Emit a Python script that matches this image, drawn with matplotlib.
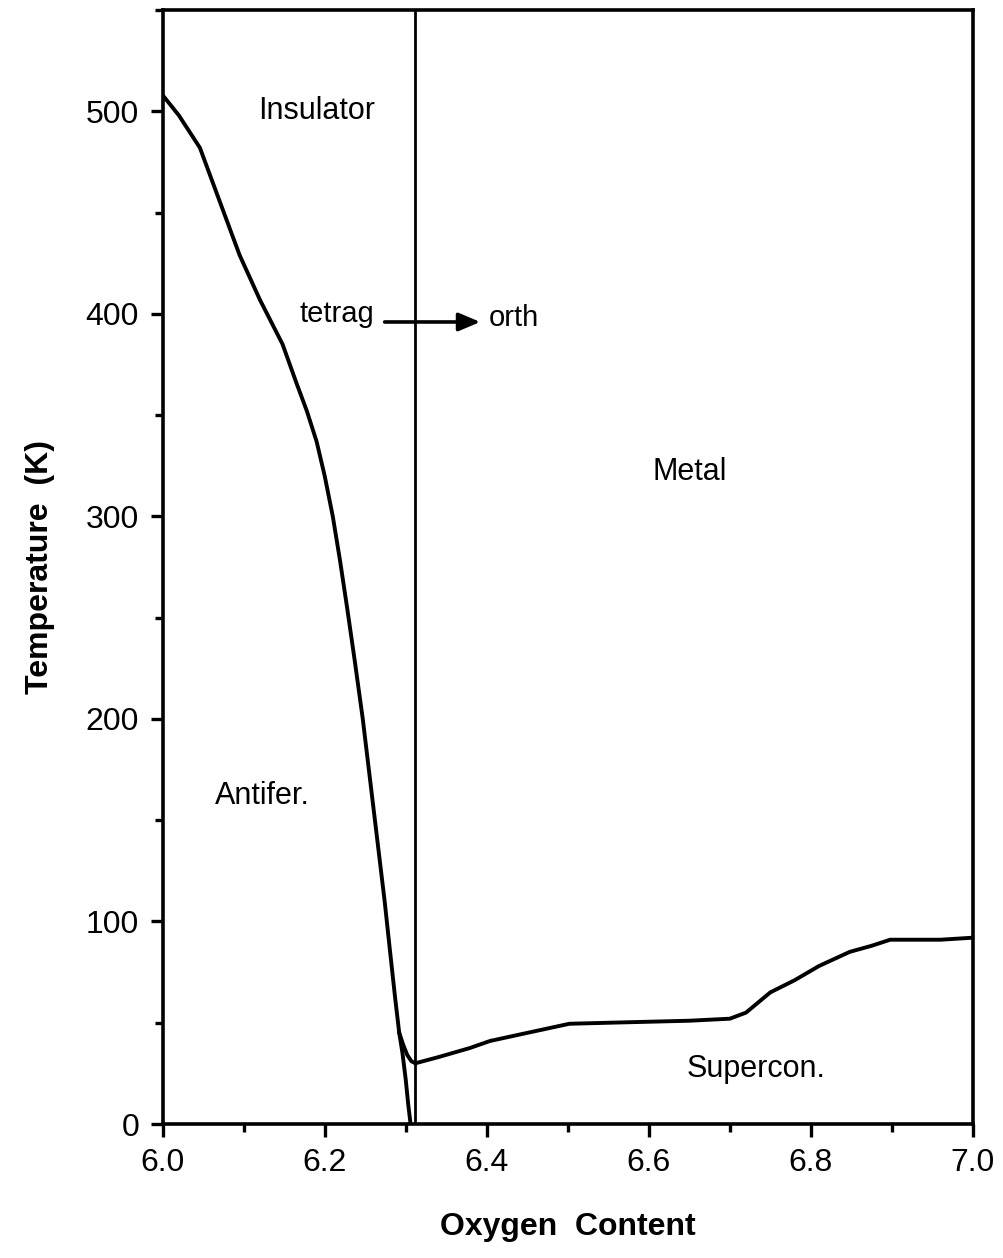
import matplotlib.pyplot as plt
from matplotlib.ticker import MultipleLocator

plt.rcParams['font.family'] = ['Liberation Sans', 'DejaVu Sans']

# Neel temperature (antiferromagnet boundary)
neel_x = [6.0, 6.02, 6.046, 6.07, 6.095, 6.12, 6.148, 6.165, 6.178, 6.19, 6.2,
          6.21, 6.219, 6.228, 6.237, 6.247, 6.256, 6.265, 6.274, 6.281, 6.287,
          6.292, 6.296, 6.300, 6.303, 6.306]
neel_t = [508, 498, 482, 456, 429, 407, 385, 366, 352, 337, 320,
          300, 278, 254, 229, 200, 170, 140, 110, 84, 62,
          45, 35, 22, 10, 0]

# branch from the Neel line to the tetragonal/orthorhombic boundary
branch_x = [6.292, 6.297, 6.302, 6.307, 6.312]
branch_t = [45, 39, 34, 31, 30]

# superconducting Tc
tc_x = [6.312, 6.34, 6.379, 6.404, 6.45, 6.502, 6.55, 6.6, 6.65, 6.7, 6.72,
        6.75, 6.78, 6.81, 6.848, 6.875, 6.898, 6.93, 6.96, 7.0]
tc_t = [30, 33, 37.5, 41, 45, 49.5, 50, 50.5, 51, 52, 55,
        65, 71, 78, 85, 88, 91, 91, 91, 92]

boundary_x = 6.312

fig = plt.figure(figsize=(10.04, 12.58), dpi=100)
ax = fig.add_axes([0.162, 0.1065, 0.807, 0.8855])

ax.plot(neel_x, neel_t, color='black', lw=2.8, solid_capstyle='round', solid_joinstyle='round')
ax.plot(branch_x, branch_t, color='black', lw=2.8, solid_joinstyle='round')
ax.plot(tc_x, tc_t, color='black', lw=2.8, solid_capstyle='round', solid_joinstyle='round')
ax.axvline(boundary_x, color='black', lw=2.0)

ax.set_xlim(6.0, 7.0)
ax.set_ylim(0, 550)
ax.xaxis.set_major_locator(MultipleLocator(0.2))
ax.xaxis.set_minor_locator(MultipleLocator(0.1))
ax.yaxis.set_major_locator(MultipleLocator(100))
ax.yaxis.set_minor_locator(MultipleLocator(50))
ax.xaxis.set_major_formatter(plt.FormatStrFormatter('%.1f'))
ax.tick_params(which='major', direction='out', length=9, width=2.4, labelsize=23, pad=8)
ax.tick_params(which='minor', direction='out', length=6, width=2.4)
for s in ax.spines.values():
    s.set_linewidth(2.6)

ax.set_xlabel('Oxygen  Content', fontsize=23, fontweight='bold', labelpad=25)
ax.set_ylabel('Temperature  (K)', fontsize=23, fontweight='bold', labelpad=22)

ax.text(6.19, 500, 'Insulator', fontsize=22, ha='center', va='center')
ax.text(6.65, 322, 'Metal', fontsize=22, ha='center', va='center')
ax.text(6.123, 162, 'Antifer.', fontsize=22, ha='center', va='center')
ax.text(6.733, 27, 'Supercon.', fontsize=22, ha='center', va='center')
ax.text(6.215, 400, 'tetrag', fontsize=21, ha='center', va='center')
ax.text(6.434, 398, 'orth', fontsize=21, ha='center', va='center')
ax.annotate('', xy=(6.392, 396), xytext=(6.274, 396),
            arrowprops=dict(arrowstyle='-|>,head_length=1.3,head_width=0.55',
                            color='black', lw=2.6, shrinkA=0, shrinkB=0))

fig.savefig('out.png', dpi=100)
